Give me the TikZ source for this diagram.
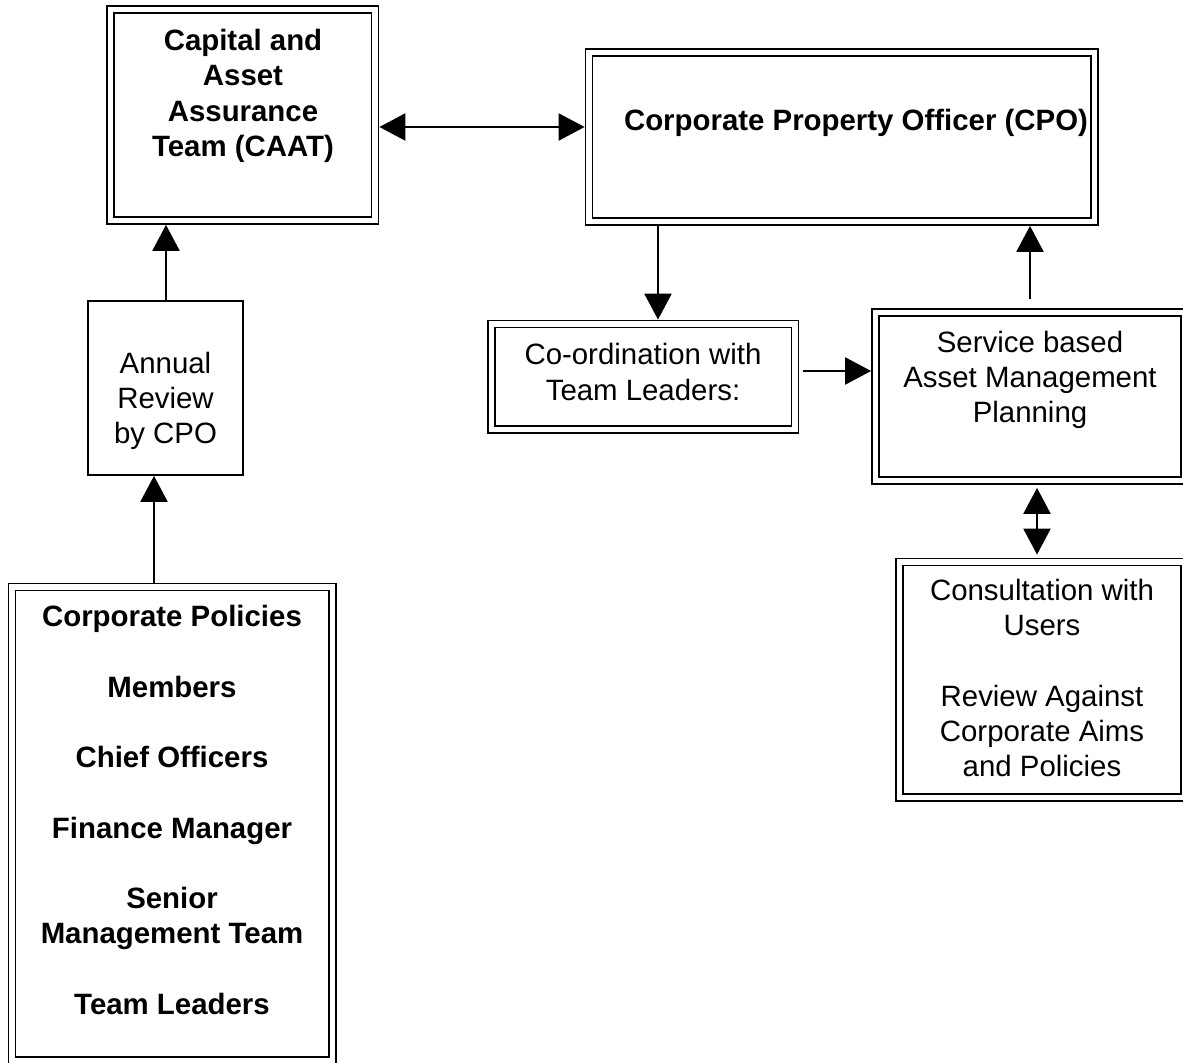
\documentclass[tikz,border=0pt]{standalone}
\usepackage{fontspec}
\setmainfont{Liberation Sans}
\usetikzlibrary{arrows.meta,calc,fit}
\tikzset{
 chart/.style={x=0.5pt,y=-0.5pt,line join=miter},
 dbox/.style={draw=black,line width=.9pt,double=white,double distance=2.6pt,inner sep=0pt,outer sep=2.2pt},
 sbox/.style={draw=black,line width=.9pt,inner sep=0pt,outer sep=.45pt},
 boxtext/.style={font=\fontsize{14.7}{17.6}\selectfont,align=center,inner sep=0pt},
 boldtext/.style={boxtext,font=\fontsize{14.7}{17.6}\selectfont\bfseries},
 link/.style={draw=black,line width=1.2pt,-{Triangle[length=13pt,width=13.5pt]}},
 twolink/.style={draw=black,line width=1.2pt,{Triangle[length=13pt,width=13.5pt]}-{Triangle[length=13pt,width=13.5pt]}}
}
\begin{document}
\begin{tikzpicture}[chart]
 \clip (0,0) rectangle (1183,1063);
 \fill[white] (0,0) rectangle (1183,1063);
 % boxes
 \node[dbox,fit={(110.5,9.5) (375,220.5)}] (caat) {};
 \node[dbox,fit={(589,52.5) (1094.5,221.5)}] (cpo) {};
 \node[dbox,fit={(491.5,324) (795,429.5)}] (coord) {};
 \node[dbox,fit={(875.5,312.5) (1184.5,480.5)}] (plan) {};
 \node[dbox,fit={(899.5,562) (1184.5,797.5)}] (consult) {};
 \node[dbox,fit={(12,587) (332.5,1060.5)}] (policies) {};
 \node[sbox,fit={(88,301) (243,475)}] (annual) {};
 % texts
 \node[boldtext] (caatText) at (243,96) {Capital and\\Asset\\Assurance\\Team (CAAT)};
 \node[boldtext] (cpoText) at (856,123) {Corporate Property Officer (CPO)};
 \node[boxtext] (coordText) at (643,372) {Co-ordination with\\Team Leaders:};
 \node[boxtext] (planText) at (1030,380) {Service based\\Asset Management\\Planning};
 \node[boxtext] (consultText) at (1042,678) {Consultation with\\Users\\[17.6pt]Review Against\\Corporate Aims\\and Policies};
 \node[boxtext] (annualText) at (165.5,401) {Annual\\Review\\by CPO};
 \node[boldtext] (policiesText) at (172,810) {Corporate Policies\\[17.6pt]Members\\[17.6pt]Chief Officers\\[17.6pt]Finance Manager\\[17.6pt]Senior\\Management Team\\[17.6pt]Team Leaders};
 % connectors
 \coordinate (row) at (0,127);
 \draw[twolink] (caat.east |- row) -- (cpo.west |- row);
 \coordinate (down) at (658,0);
 \draw[link] (cpo.south -| down) -- (coord.north -| down);
 \coordinate (across) at (0,371);
 \draw[link,shorten <=2pt] (coord.east |- across) -- (plan.west |- across);
 \coordinate (up) at (1030,0);
 \draw[link,shorten <=4.5pt] (plan.north -| up) -- (cpo.south -| up);
 \coordinate (users) at (1037,0);
 \draw[twolink,shorten <=1.5pt,shorten >=1.5pt] (plan.south -| users) -- (consult.north -| users);
 \coordinate (review) at (166,0);
 \draw[link] (annual.north -| review) -- (caat.south -| review);
 \coordinate (feed) at (154,0);
 \draw[link] (policies.north -| feed) -- (annual.south -| feed);
\end{tikzpicture}
\end{document}
